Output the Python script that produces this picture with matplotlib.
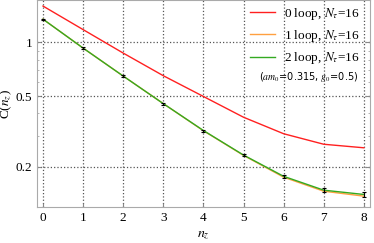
import numpy as np
import matplotlib.pyplot as plt
from matplotlib.ticker import FixedLocator, NullFormatter, LogLocator

# data
nz = [0, 1, 2, 3, 4, 5, 6, 7, 8]
c_loop0 = [1.60, 1.18, 0.871, 0.650, 0.497, 0.380, 0.307, 0.268, 0.256]
c_loop1 = [1.35, 0.929, 0.647, 0.453, 0.319, 0.232, 0.175, 0.146, 0.137]
c_loop2 = [1.35, 0.929, 0.647, 0.453, 0.320, 0.233, 0.177, 0.148, 0.140]
c_err = [0.012, 0.008, 0.006, 0.005, 0.004, 0.003, 0.004, 0.004, 0.005]

plt.rcParams['font.family'] = ['Liberation Serif', 'DejaVu Serif']
plt.rcParams['mathtext.fontset'] = 'stix'

fig = plt.figure(figsize=(3.74, 2.43), dpi=100)
ax = fig.add_axes([0.099, 0.148, 0.890, 0.850])

ax.plot(nz, c_loop0, color='#ff2020', lw=1.0, label=r'0 loop, $N_\tau$=16')
ax.plot(nz, c_loop1, color='#ffa040', lw=1.0, label=r'1 loop, $N_\tau$=16')
ax.plot(nz, c_loop2, color='#33aa22', lw=1.0, label=r'2 loop, $N_\tau$=16')
ax.errorbar(nz, c_loop2, yerr=c_err, fmt='none', ecolor='black',
            elinewidth=0.8, capsize=1.5, capthick=0.8)

ax.set_yscale('log')
ax.set_xlim(-0.15, 8.15)
ax.set_ylim(0.119, 1.72)
ax.set_xticks(nz)
ax.yaxis.set_major_locator(FixedLocator([0.2, 0.5, 1]))
ax.set_yticklabels(['0.2', '0.5', '1'])
ax.yaxis.set_minor_locator(LogLocator(base=10, subs=np.arange(1, 10) / 10.0, numticks=20))
ax.yaxis.set_minor_formatter(NullFormatter())

ax.tick_params(axis='both', direction='in', labelsize=9.5, color='#888888', length=3)
ax.tick_params(axis='y', which='minor', direction='in', length=1.5, color='#aaaaaa', right=True)
ax.tick_params(axis='y', which='major', right=True)
for s in ax.spines.values():
    s.set_color('#aaaaaa')

ax.grid(True, which='major', linestyle=':', color='#555555', lw=0.9)

ax.set_xlabel(r'$n_z$', fontsize=10)
ax.xaxis.set_label_coords(0.5, -0.1)
ax.set_ylabel(r'C($n_z$)', fontsize=9.5)
ax.yaxis.set_label_coords(-0.068, 0.5)

leg = ax.legend(loc='upper right', frameon=False, fontsize=9.5, handlelength=1.9,
                handletextpad=0.7, labelspacing=0.48, borderaxespad=0.0,
                bbox_to_anchor=(0.985, 1.0))
ax.text(0.964, 0.628, r'($am_0$=0.315, $g_0$=0.5)', transform=ax.transAxes,
        ha='right', va='center', fontsize=7, family=['DejaVu Sans'])

fig.savefig('out.png', dpi=100)
